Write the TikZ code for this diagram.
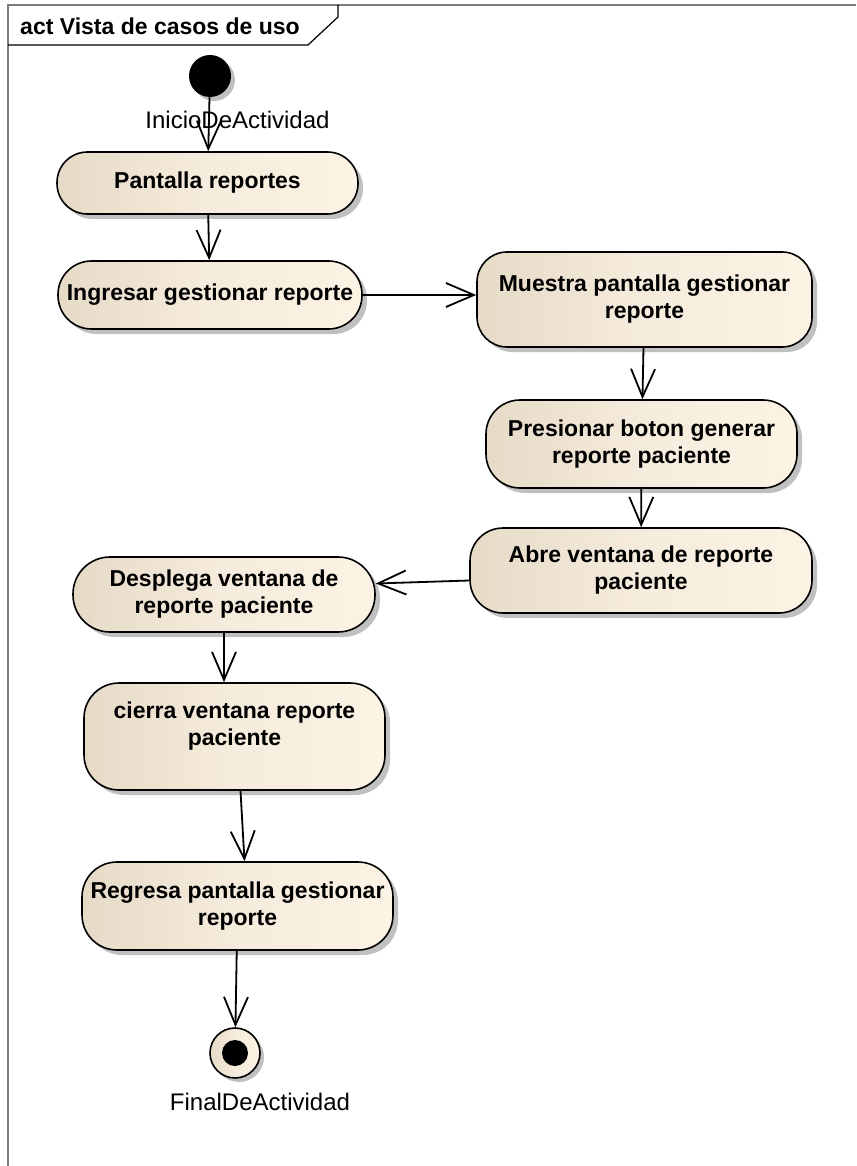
\documentclass[tikz,border=0pt]{standalone}
\usepackage{fontspec}
\setmainfont{Liberation Sans}
\usepackage{tikz}
\usetikzlibrary{arrows.meta,calc,shadows,positioning}
\definecolor{actLeft}{HTML}{E6DAC7}
\definecolor{actMid}{HTML}{F6ECDD}
\definecolor{actRight}{HTML}{FCF3E5}
\definecolor{shadowGray}{HTML}{C0C0C0}
\definecolor{frameGray}{HTML}{7A7A7A}
\newcommand{\actfont}{\fontsize{23}{27}\selectfont\bfseries}
\newcommand{\lblfont}{\fontsize{24}{28}\selectfont}

\tikzset{
  act/.style={draw=black,line width=1.6pt,left color=actLeft,right color=actRight,middle color=actMid,
    drop shadow={shadow xshift=5pt,shadow yshift=-5pt,fill=shadowGray,opacity=1},
    align=center,font=\actfont,inner sep=0pt},
  flow/.style={line width=1.8pt,-{Straight Barb[length=28pt,width=24pt,line width=1.8pt]}},
  lbl/.style={font=\lblfont,inner sep=0pt}
}

\begin{document}
\begin{tikzpicture}[x=1pt,y=1pt]
    \useasboundingbox (0,0) rectangle (856,-1166);

    % marco del diagrama
    \draw[frameGray,line width=1.6pt] (8,-1166)--(8,-5)--(856,-5);
    \draw[line width=1.2pt] (338,-5)--(338,-17)--(308,-45)--(8,-45);
    \node[font=\actfont,inner sep=0pt] (titulo) at (160,-26) {act Vista de casos de uso};

    % nodo inicial
    \fill[shadowGray] (214,-80) circle (21pt);
    \fill[black] (210,-76) coordinate (inicioC) circle (21pt);
    \node[circle,minimum size=42pt,inner sep=0pt] (inicio) at (inicioC) {};
    \node[lbl] (inicioLbl) at (237.5,-120) {InicioDeActividad};

    % actividades
    \node[act,minimum width=301pt,minimum height=62pt,rounded corners=30.5pt]
      (pantalla) at (207.5,-183) {Pantalla reportes};
    \node[act,minimum width=304pt,minimum height=68pt,rounded corners=33.5pt]
      (ingresar) at (210,-295) {Ingresar gestionar reporte};
    \node[act,minimum width=335pt,minimum height=95pt,rounded corners=30pt]
      (muestra) at (644.5,-299.5) {Muestra pantalla gestionar\\reporte};
    \node[act,minimum width=311pt,minimum height=88pt,rounded corners=34pt]
      (presionar) at (641.5,-444) {Presionar boton generar\\reporte paciente};
    \node[act,minimum width=342pt,minimum height=85pt,rounded corners=33pt]
      (abre) at (641,-570.5) {Abre ventana de reporte\\paciente};
    \node[act,minimum width=302pt,minimum height=75pt,rounded corners=37pt]
      (desplega) at (224,-594.5) {Desplega ventana de\\reporte paciente};
    \node[act,minimum width=301pt,minimum height=107pt,rounded corners=35pt,
      label={[font=\actfont,align=center,yshift=10pt]center:cierra ventana reporte\\paciente}]
      (cierra) at (234.5,-736.5) {};
    \node[act,minimum width=311pt,minimum height=88pt,rounded corners=35pt]
      (regresa) at (237.5,-906) {Regresa pantalla gestionar\\reporte};

    % nodo final
    \node[circle,draw=black,line width=1.6pt,left color=actLeft,right color=actRight,middle color=actMid,
      drop shadow={shadow xshift=4pt,shadow yshift=-4pt,fill=shadowGray,opacity=1},
      minimum size=50pt,inner sep=0pt] (fin) at (235,-1053) {};
    \fill[black] (fin.center) circle (13pt);
    \node[lbl] (finLbl) at (260,-1102) {FinalDeActividad};

    % flujos
    \draw[flow] (inicio)--(pantalla);
    \draw[flow] (pantalla)--(ingresar);
    \draw[flow] (ingresar.east)--(ingresar.east -| muestra.west);
    \draw[flow] (muestra)--(presionar);
    \draw[flow] (presionar)--(abre);
    \draw[flow] ($(abre.west)+(0,-10)$)--($(desplega.east)+(0,11)$);
    \draw[flow] (desplega.south)--(desplega.south |- cierra.north);
    \draw[flow] ($(cierra.south)+(6,0)$)--($(regresa.north)+(7,0)$);
    \draw[flow] (regresa)--(fin);
  \end{tikzpicture}
\end{document}
